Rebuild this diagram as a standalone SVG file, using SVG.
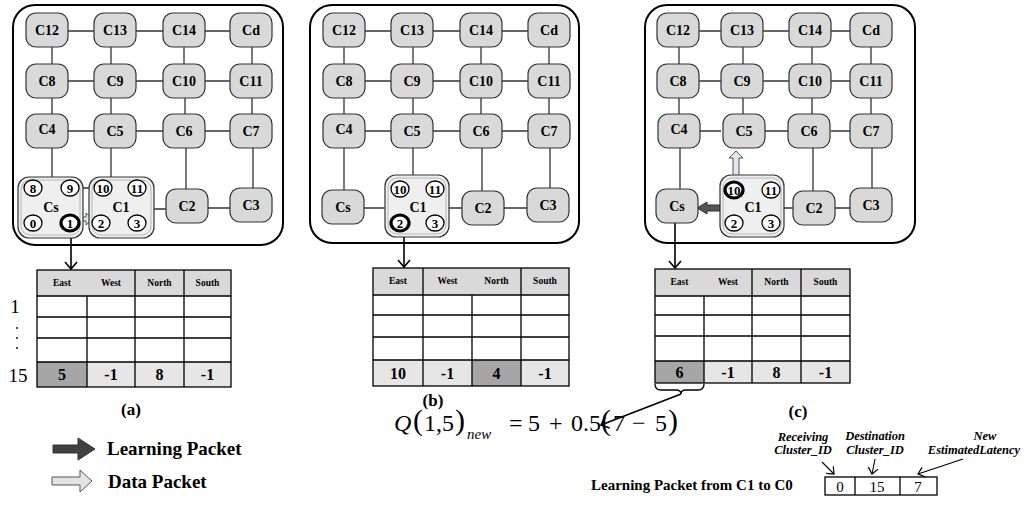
<svg xmlns="http://www.w3.org/2000/svg" width="1034" height="510" viewBox="0 0 1034 510">
<defs>
<style>
text{font-family:"Liberation Serif","Times New Roman",serif;fill:#000}
.panel{fill:#fff;stroke:#000;stroke-width:2}
.node rect{fill:#d9d9d9;stroke:#333;stroke-width:1.2}
.node text{font-size:14px;font-weight:bold;text-anchor:middle}
.clu{fill:#efefef;stroke:#333;stroke-width:1.2}
.cluin{fill:none;stroke:#aaa;stroke-width:0.8}
.cir ellipse{fill:#fff;stroke:#000;stroke-width:1.3}
.cir.bold ellipse{stroke-width:3.2}
.cir text{font-size:13px;font-weight:bold;text-anchor:middle}
.clabel{font-size:14px;font-weight:bold;text-anchor:middle}
.ln{stroke:#333;stroke-width:1.3;fill:none}
.arr{stroke:#000;stroke-width:1.6;fill:none}
.data{fill:#dfe8f0;stroke:#555;stroke-width:1}
.learn{fill:#555;stroke:#333;stroke-width:1}
.tl{stroke:#000;stroke-width:1.3;fill:none}
.th{font-size:9.5px;font-weight:bold;text-anchor:middle}
.tv{font-size:16px;font-weight:bold;text-anchor:middle}
.hdr{fill:#d9d9d9}
.last{fill:#e6e6e6}
.dark{fill:#a6a6a6}
.lbl{font-size:17px;font-weight:bold;text-anchor:middle}
.leg{font-size:19px;font-weight:bold}
.it{font-size:12.5px;font-weight:bold;font-style:italic;text-anchor:middle}
</style>
<marker id="v" markerUnits="userSpaceOnUse" markerWidth="20" markerHeight="20" viewBox="-10 -10 20 20" refX="0" refY="0" orient="auto" overflow="visible">
<path d="M-7,-6 L0,0 L-7,6" fill="none" stroke="#000" stroke-width="1.6"/>
</marker>
<marker id="vs" markerUnits="userSpaceOnUse" markerWidth="16" markerHeight="16" viewBox="-8 -8 16 16" refX="0" refY="0" orient="auto" overflow="visible">
<path d="M-6,-5 L0,0 L-6,5" fill="none" stroke="#000" stroke-width="1.2"/>
</marker>
</defs>
<rect width="1034" height="510" fill="#fff"/>

<!-- panels -->
<rect class="panel" x="13" y="5" width="270" height="240" rx="22"/>
<rect class="panel" x="310" y="5" width="269" height="238" rx="22"/>
<rect class="panel" x="645" y="5" width="270" height="238" rx="22"/>

<g id="connectors">
<!-- panel a -->
<path class="ln" d="M68,31H94M136,31H163M205,31H230M68,81H94M136,81H163M205,81H230M68,131H94M136,131H163M205,131H230"/>
<path class="ln" d="M52,47V64M111,47V64M184,47V64M252,47V64M52,98V114M111,98V114M185,98V114M252,98V114"/>
<path class="ln" d="M52,148V177M111,148V177M186,148V189M253,148V188M154,209H166M208,208H230"/>
<path class="ln" d="M42,188H61M33,196V215M70,196V215M42,223H61M79,188H94M112,188H128M103,196V215M137,196V215M110,223H128"/>
<!-- panel b -->
<path class="ln" d="M365,31H391M433,31H460M502,31H528M365,81H391M433,81H460M502,81H528M365,131H391M433,131H460M502,131H528"/>
<path class="ln" d="M344,47V64M413,47V64M481,47V64M549,47V64M344,98V114M413,98V114M481,98V114M549,98V114"/>
<path class="ln" d="M344,148V190M413,148V175M482,148V191M550,148V188M364,208H385M449,208H462M504,208H527"/>
<path class="ln" d="M409,189H426M437,197V215M409,223H426"/>
<!-- panel c -->
<path class="ln" d="M699,31H721M763,31H789M831,31H850M699,81H721M763,81H789M831,81H850M699,131H721M763,131H789M831,131H850"/>
<path class="ln" d="M679,47V64M743,47V64M812,47V64M871,47V64M679,98V114M743,98V114M812,98V114M871,98V114"/>
<path class="ln" d="M680,148V189M813,148V191M872,148V188M784,208H793M835,208H850"/>
<path class="ln" d="M743,190H762M734,198V215M771,198V215M743,223H762"/>
<!-- arrows to tables -->
<line class="arr" x1="71" y1="232" x2="71" y2="269" marker-end="url(#v)"/>
<line class="arr" x1="404" y1="232" x2="404" y2="267" marker-end="url(#v)"/>
<line class="arr" x1="675" y1="223" x2="675" y2="268" marker-end="url(#v)"/>
<!-- packet arrows -->
<polygon class="data" points="81,217 86,217 86,213 93,219 86,225 86,221 81,221"/>
<polygon class="data" points="396,216 396,205 392,205 399,198 406,205 402,205 402,216"/>
<polygon class="data" points="733,181 733,158 729,158 736,151 743,158 739,158 739,181"/>
<polygon class="learn" points="720,205 707,205 707,202 697,208 707,214 707,211 720,211"/>
<!-- brace and formula arrow -->
<path class="tl" d="M655,384 Q655,390 661,390 L676,390 Q681,390 681,394 Q681,390 686,390 L698,390 Q704,390 704,384" stroke-width="1"/>
<line class="arr" x1="681" y1="394" x2="601" y2="425" marker-end="url(#v)"/>
<!-- packet field arrows -->
<line x1="822" y1="462" x2="834" y2="474" stroke="#000" stroke-width="1.1" marker-end="url(#vs)"/>
<line x1="875" y1="459" x2="872" y2="474" stroke="#000" stroke-width="1.1" marker-end="url(#vs)"/>
<line x1="963" y1="459" x2="918" y2="474" stroke="#000" stroke-width="1.1" marker-end="url(#vs)"/>
</g>

<!-- panel a nodes -->
<g id="a-C12" class="node"><rect x="26" y="13" width="42" height="34" rx="10"/><text x="47" y="35">C12</text></g>
<g id="a-C13" class="node"><rect x="94" y="13" width="42" height="34" rx="10"/><text x="115" y="35">C13</text></g>
<g id="a-C14" class="node"><rect x="163" y="13" width="42" height="34" rx="10"/><text x="184" y="35">C14</text></g>
<g id="a-Cd" class="node"><rect x="230" y="13" width="42" height="34" rx="10"/><text x="251" y="35">Cd</text></g>
<g id="a-C8" class="node"><rect x="26" y="64" width="42" height="34" rx="10"/><text x="47" y="86">C8</text></g>
<g id="a-C9" class="node"><rect x="94" y="64" width="42" height="34" rx="10"/><text x="115" y="86">C9</text></g>
<g id="a-C10" class="node"><rect x="163" y="64" width="42" height="34" rx="10"/><text x="184" y="86">C10</text></g>
<g id="a-C11" class="node"><rect x="230" y="64" width="42" height="34" rx="10"/><text x="251" y="86">C11</text></g>
<g id="a-C4" class="node"><rect x="26" y="114" width="42" height="34" rx="10"/><text x="47" y="134">C4</text></g>
<g id="a-C5" class="node"><rect x="94" y="114" width="42" height="34" rx="10"/><text x="115" y="136">C5</text></g>
<g id="a-C6" class="node"><rect x="163" y="114" width="42" height="34" rx="10"/><text x="184" y="136">C6</text></g>
<g id="a-C7" class="node"><rect x="230" y="114" width="42" height="34" rx="10"/><text x="251" y="136">C7</text></g>
<g id="a-C2" class="node"><rect x="166" y="189" width="42" height="34" rx="10"/><text x="187" y="211">C2</text></g>
<g id="a-C3" class="node"><rect x="230" y="188" width="42" height="34" rx="10"/><text x="251" y="210">C3</text></g>
<g id="a-Cs">
<rect class="clu" x="18" y="177" width="65" height="61" rx="11"/>
<rect class="cluin" x="21" y="180" width="59" height="55" rx="9"/>
<text class="clabel" x="51" y="212">Cs</text>
<g class="cir"><ellipse cx="33" cy="188" rx="9" ry="8"/><text x="33" y="193">8</text></g>
<g class="cir"><ellipse cx="70" cy="188" rx="9" ry="8"/><text x="70" y="193">9</text></g>
<g class="cir"><ellipse cx="33" cy="223" rx="9" ry="8"/><text x="33" y="228">0</text></g>
<g class="cir bold"><ellipse cx="70" cy="223" rx="9" ry="8"/><text x="70" y="228">1</text></g>
</g>
<g id="a-C1">
<rect class="clu" x="89" y="177" width="65" height="61" rx="11"/>
<rect class="cluin" x="92" y="180" width="59" height="55" rx="9"/>
<text class="clabel" x="121" y="212">C1</text>
<g class="cir"><ellipse cx="103" cy="188" rx="9" ry="8"/><text x="103" y="193">10</text></g>
<g class="cir"><ellipse cx="137" cy="188" rx="9" ry="8"/><text x="137" y="193">11</text></g>
<g class="cir"><ellipse cx="101" cy="223" rx="9" ry="8"/><text x="101" y="228">2</text></g>
<g class="cir"><ellipse cx="137" cy="223" rx="9" ry="8"/><text x="137" y="228">3</text></g>
</g>

<!-- panel b nodes -->
<g id="b-C12" class="node"><rect x="323" y="13" width="42" height="34" rx="10"/><text x="344" y="35">C12</text></g>
<g id="b-C13" class="node"><rect x="391" y="13" width="42" height="34" rx="10"/><text x="412" y="35">C13</text></g>
<g id="b-C14" class="node"><rect x="460" y="13" width="42" height="34" rx="10"/><text x="481" y="35">C14</text></g>
<g id="b-Cd" class="node"><rect x="528" y="13" width="42" height="34" rx="10"/><text x="549" y="35">Cd</text></g>
<g id="b-C8" class="node"><rect x="323" y="64" width="42" height="34" rx="10"/><text x="344" y="86">C8</text></g>
<g id="b-C9" class="node"><rect x="391" y="64" width="42" height="34" rx="10"/><text x="412" y="86">C9</text></g>
<g id="b-C10" class="node"><rect x="460" y="64" width="42" height="34" rx="10"/><text x="481" y="86">C10</text></g>
<g id="b-C11" class="node"><rect x="528" y="64" width="42" height="34" rx="10"/><text x="549" y="86">C11</text></g>
<g id="b-C4" class="node"><rect x="323" y="114" width="42" height="34" rx="10"/><text x="344" y="134">C4</text></g>
<g id="b-C5" class="node"><rect x="391" y="114" width="42" height="34" rx="10"/><text x="412" y="136">C5</text></g>
<g id="b-C6" class="node"><rect x="460" y="114" width="42" height="34" rx="10"/><text x="481" y="136">C6</text></g>
<g id="b-C7" class="node"><rect x="528" y="114" width="42" height="34" rx="10"/><text x="549" y="136">C7</text></g>
<g id="b-Cs" class="node"><rect x="322" y="190" width="42" height="34" rx="10"/><text x="343" y="212">Cs</text></g>
<g id="b-C2" class="node"><rect x="462" y="191" width="42" height="34" rx="10"/><text x="483" y="213">C2</text></g>
<g id="b-C3" class="node"><rect x="527" y="188" width="42" height="34" rx="10"/><text x="548" y="210">C3</text></g>
<g id="b-C1">
<rect class="clu" x="385" y="175" width="64" height="62" rx="11"/>
<rect class="cluin" x="388" y="178" width="58" height="56" rx="9"/>
<text class="clabel" x="418" y="212">C1</text>
<g class="cir"><ellipse cx="400" cy="189" rx="9" ry="8"/><text x="400" y="194">10</text></g>
<g class="cir"><ellipse cx="435" cy="189" rx="9" ry="8"/><text x="435" y="194">11</text></g>
<g class="cir bold"><ellipse cx="400" cy="223" rx="9" ry="8"/><text x="400" y="228">2</text></g>
<g class="cir"><ellipse cx="435" cy="223" rx="9" ry="8"/><text x="435" y="228">3</text></g>
</g>

<!-- panel c nodes -->
<g id="c-C12" class="node"><rect x="657" y="13" width="42" height="34" rx="10"/><text x="678" y="35">C12</text></g>
<g id="c-C13" class="node"><rect x="721" y="13" width="42" height="34" rx="10"/><text x="742" y="35">C13</text></g>
<g id="c-C14" class="node"><rect x="789" y="13" width="42" height="34" rx="10"/><text x="810" y="35">C14</text></g>
<g id="c-Cd" class="node"><rect x="850" y="13" width="42" height="34" rx="10"/><text x="871" y="35">Cd</text></g>
<g id="c-C8" class="node"><rect x="657" y="64" width="42" height="34" rx="10"/><text x="678" y="86">C8</text></g>
<g id="c-C9" class="node"><rect x="721" y="64" width="42" height="34" rx="10"/><text x="742" y="86">C9</text></g>
<g id="c-C10" class="node"><rect x="789" y="64" width="42" height="34" rx="10"/><text x="810" y="86">C10</text></g>
<g id="c-C11" class="node"><rect x="850" y="64" width="42" height="34" rx="10"/><text x="871" y="86">C11</text></g>
<g id="c-C4" class="node"><rect x="658" y="114" width="42" height="34" rx="10"/><text x="679" y="134">C4</text></g>
<g id="c-C5" class="node"><rect x="723" y="114" width="42" height="34" rx="10"/><text x="744" y="136">C5</text></g>
<g id="c-C6" class="node"><rect x="788" y="114" width="42" height="34" rx="10"/><text x="809" y="136">C6</text></g>
<g id="c-C7" class="node"><rect x="850" y="114" width="42" height="34" rx="10"/><text x="871" y="136">C7</text></g>
<g id="c-Cs" class="node"><rect x="656" y="189" width="42" height="34" rx="10"/><text x="677" y="211">Cs</text></g>
<g id="c-C2" class="node"><rect x="793" y="191" width="42" height="34" rx="10"/><text x="814" y="213">C2</text></g>
<g id="c-C3" class="node"><rect x="850" y="188" width="42" height="34" rx="10"/><text x="871" y="210">C3</text></g>
<g id="c-C1">
<rect class="clu" x="720" y="175" width="64" height="62" rx="11"/>
<rect class="cluin" x="723" y="178" width="58" height="56" rx="9"/>
<text class="clabel" x="753" y="212">C1</text>
<g class="cir bold"><ellipse cx="734" cy="190" rx="9" ry="8"/><text x="734" y="195">10</text></g>
<g class="cir"><ellipse cx="771" cy="190" rx="9" ry="8"/><text x="771" y="195">11</text></g>
<g class="cir"><ellipse cx="734" cy="223" rx="9" ry="8"/><text x="734" y="228">2</text></g>
<g class="cir"><ellipse cx="771" cy="223" rx="9" ry="8"/><text x="771" y="228">3</text></g>
</g>

<!-- table a -->
<g id="table-a">
<rect class="hdr" x="37" y="270" width="194" height="26"/>
<rect class="last" x="37" y="362" width="194" height="25"/>
<rect class="dark" x="37" y="362" width="50" height="25"/>
<rect class="tl" x="37" y="270" width="194" height="117"/>
<path class="tl" d="M37,296H231M37,317H231M37,338H231M37,362H231M87,296V387M135,270V387M184,270V387"/>
<text class="th" x="62" y="286">East</text><text class="th" x="111" y="286">West</text><text class="th" x="159.5" y="286">North</text><text class="th" x="207.5" y="286">South</text>
<text class="tv" x="62" y="380">5</text><text class="tv" x="111" y="380">-1</text><text class="tv" x="159.5" y="380">8</text><text class="tv" x="207.5" y="380">-1</text>
<text x="15" y="313" font-size="19" text-anchor="middle">1</text>
<circle cx="17" cy="328" r="0.9"/><circle cx="17" cy="338" r="0.9"/><circle cx="17" cy="348" r="0.9"/>
<text x="18" y="382" font-size="19" text-anchor="middle">15</text>
</g>
<!-- table b -->
<g id="table-b">
<rect class="hdr" x="373" y="268" width="196" height="27"/>
<rect class="last" x="373" y="360" width="196" height="26"/>
<rect class="dark" x="472" y="360" width="49" height="26"/>
<rect class="tl" x="373" y="268" width="196" height="118"/>
<path class="tl" d="M373,295H569M373,315H569M373,337H569M373,360H569M423,268V386M472,295V386M521,268V386"/>
<text class="th" x="398" y="284">East</text><text class="th" x="447.5" y="284">West</text><text class="th" x="496.5" y="284">North</text><text class="th" x="545" y="284">South</text>
<text class="tv" x="398" y="379">10</text><text class="tv" x="447.5" y="379">-1</text><text class="tv" x="496.5" y="379">4</text><text class="tv" x="545" y="379">-1</text>
</g>
<!-- table c -->
<g id="table-c">
<rect class="hdr" x="655" y="269" width="195" height="27"/>
<rect class="last" x="655" y="361" width="195" height="22"/>
<rect class="dark" x="655" y="361" width="49" height="22"/>
<rect class="tl" x="655" y="269" width="195" height="114"/>
<path class="tl" d="M655,296H850M655,315H850M655,336H850M655,361H850M704,296V383M752,269V383M801,269V383"/>
<text class="th" x="679.5" y="285">East</text><text class="th" x="728" y="285">West</text><text class="th" x="776.5" y="285">North</text><text class="th" x="825.5" y="285">South</text>
<text class="tv" x="679.5" y="378">6</text><text class="tv" x="728" y="378">-1</text><text class="tv" x="776.5" y="378">8</text><text class="tv" x="825.5" y="378">-1</text>
</g>

<!-- labels -->
<text class="lbl" x="131" y="415">(a)</text>
<text class="lbl" x="433" y="406">(b)</text>
<text class="lbl" x="798" y="417">(c)</text>

<!-- formula -->
<g id="formula" font-size="24">
<text x="394" y="431" font-style="italic" font-size="24">Q</text>
<text x="413" y="430" font-size="30">(</text>
<text x="424" y="431">1,5</text>
<text x="455" y="430" font-size="30">)</text>
<text x="467" y="439" font-size="15" font-style="italic">new</text>
<text x="509" y="431">=</text>
<text x="528" y="431">5</text>
<text x="549" y="431">+</text>
<text x="571" y="431">0.5</text>
<text x="601" y="430" font-size="30">(</text>
<text x="613" y="431">7</text>
<text x="632" y="431">−</text>
<text x="655" y="431">5</text>
<text x="668" y="430" font-size="30">)</text>
</g>

<!-- legend -->
<g id="legend-learning">
<polygon points="53,445 78,445 78,438 95,449 78,460 78,453 53,453" fill="#404040" stroke="#333" stroke-width="1"/>
<text class="leg" x="107" y="455">Learning Packet</text>
</g>
<g id="legend-data">
<polygon points="52,477 80,477 80,470 92,481 80,492 80,485 52,485" fill="#e3e3e3" stroke="#555" stroke-width="1"/>
<text class="leg" x="108" y="488">Data Packet</text>
</g>

<!-- learning packet format -->
<g id="packet">
<text x="591" y="490" font-size="15" font-weight="bold">Learning Packet from C1 to C0</text>
<rect class="tl" x="825" y="477" width="112" height="18" stroke-width="1.1"/>
<path class="tl" d="M855,477V495M900,477V495" stroke-width="1.1"/>
<text x="840" y="492" font-size="15" text-anchor="middle">0</text>
<text x="877" y="492" font-size="15" text-anchor="middle">15</text>
<text x="918" y="492" font-size="15" text-anchor="middle">7</text>
<text class="it" x="803" y="441">Receiving</text>
<text class="it" x="803" y="454">Cluster_ID</text>
<text class="it" x="875" y="440">Destination</text>
<text class="it" x="875" y="454">Cluster_ID</text>
<text class="it" x="985" y="440">New</text>
<text class="it" x="974" y="454">EstimatedLatency</text>
</g>
</svg>
